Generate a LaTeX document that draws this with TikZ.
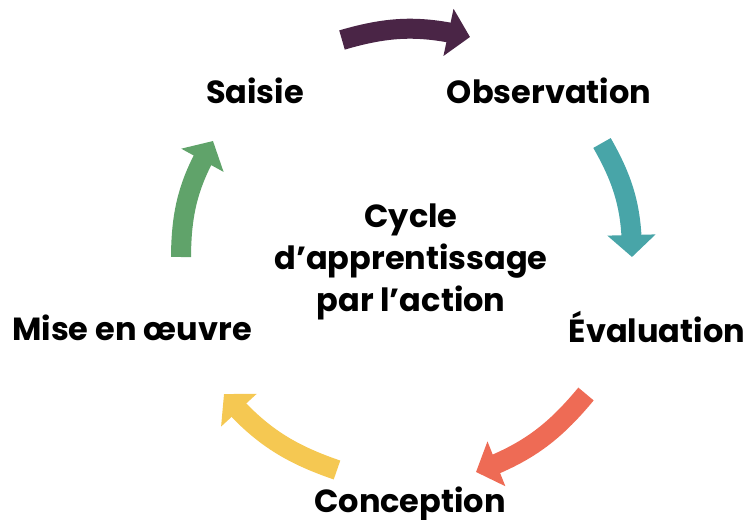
\documentclass[tikz,border=0pt]{standalone}
\usepackage{fontspec}
\setmainfont{Poppins}
\usetikzlibrary{arrows.meta,bending}

\definecolor{plum}{RGB}{74,37,70}
\definecolor{teal}{RGB}{72,165,168}
\definecolor{coral}{RGB}{238,107,85}
\definecolor{mustard}{RGB}{245,200,82}
\definecolor{leaf}{RGB}{96,163,106}

\begin{document}
\begin{tikzpicture}[x=1pt, y=-1pt,
	stage/.style={anchor=base, font=\fontsize{32}{37}\selectfont\bfseries},
	cyclearrow/.style={line width=20pt, -{Triangle[width=47pt,length=22pt]}}]
	\useasboundingbox (0,0) rectangle (749,519);

	% Nodes {saisie, observation, etc}
	\node [stage]	(saisie)		at (255,103)	{Saisie};
	\node [stage]	(observation)	at (549,103)	{Observation};
	\node [stage]	(evaluation)	at (657,342)	{Évaluation};
	\node [stage]	(conception)	at (410,512)	{Conception};
	\node [stage]	(miseenoeuvre)	at (132,340)	{Mise en œuvre};
	\node [stage, font=\fontsize{32}{42}\selectfont\bfseries, align=center, anchor=center]
		(cycle)	at (411,262)	{Cycle\\d’apprentissage\\par l’action};

	% Arrow ends {a = tail, b = tip}
	\coordinate (a1) at (342,40);	\coordinate (b1) at (470,37);
	\coordinate (a2) at (602,143);	\coordinate (b2) at (632,257);
	\coordinate (a3) at (586,394);	\coordinate (b3) at (476,472);
	\coordinate (a4) at (337,470);	\coordinate (b4) at (224,394);
	\coordinate (a5) at (181,257);	\coordinate (b5) at (213,141);

	% Paths
	\path (a1) edge [cyclearrow, draw=plum, bend left=15]		(b1);
	\path (a2) edge [cyclearrow, draw=teal, bend left=15]		(b2);
	\path (a3) edge [cyclearrow, draw=coral, bend left=15]		(b3);
	\path (a4) edge [cyclearrow, draw=mustard, bend left=15]	(b4);
	\path (a5) edge [cyclearrow, draw=leaf, bend left=15]		(b5);
\end{tikzpicture}
\end{document}
